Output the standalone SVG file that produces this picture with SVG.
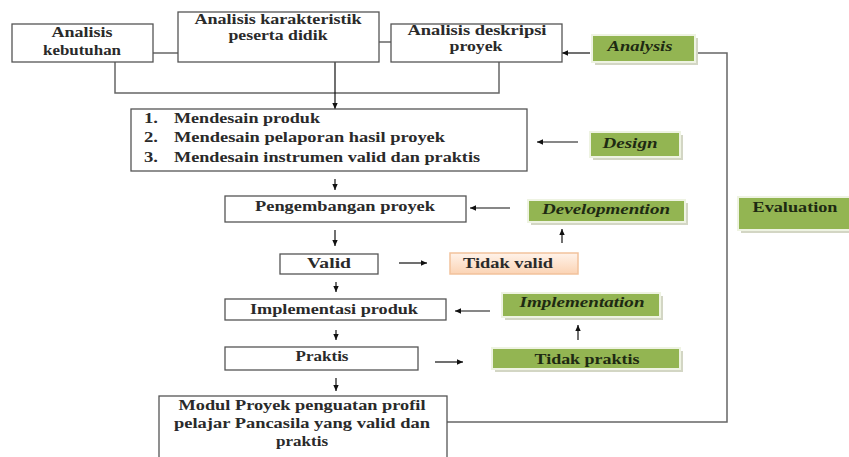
<svg xmlns="http://www.w3.org/2000/svg" width="849" height="457" viewBox="0 0 849 457">
<style>
.b{fill:#fff;stroke:#555;stroke-width:1.3}
.t{font-family:"Liberation Serif","Times New Roman",serif;font-size:15px;font-weight:bold;fill:#2a2a2a}
.s{font-size:14px}
.c{text-anchor:middle}
.gt{font-family:"Liberation Serif","Times New Roman",serif;font-size:15px;font-weight:bold;fill:#1e2a12;text-anchor:middle}
.i{font-style:italic}
.gs{fill:#d3d6c4}
.g{fill:#93b552;stroke:#eef3e2;stroke-width:2}
.ln{fill:none;stroke:#666;stroke-width:1.5}
.ar{fill:none;stroke:#111;stroke-width:1.2;marker-end:url(#ah)}
</style>
<defs>
<marker id="ah" viewBox="0 0 10 10" refX="10" refY="5" markerWidth="7" markerHeight="6" orient="auto" markerUnits="userSpaceOnUse"><path d="M0,0.5 L10,5 L0,9.5 z" fill="#111"/></marker>
<linearGradient id="peach" x1="0" y1="0" x2="0" y2="1"><stop offset="0" stop-color="#fff3ea"/><stop offset="1" stop-color="#fbd3b4"/></linearGradient>
</defs>
<rect width="849" height="457" fill="#fff"/>
<g id="connectors">
<path class="ln" d="M153,53 H178"/>
<path class="ln" d="M379,42 H391"/>
<path class="ln" d="M115,62 V93 H499 V62"/>
<path class="ar" d="M335,62 V109"/>
<path class="ar" d="M590,53 H562"/>
<path class="ln" d="M697,53 H727 V422 H447"/>
<path class="ar" d="M578,142 H537"/>
<path class="ar" d="M335,179 V190"/>
<path class="ar" d="M510,208 H470"/>
<path class="ar" d="M335,230 V246"/>
<path class="ar" d="M562,243 V229"/>
<path class="ar" d="M399,263 H427"/>
<path class="ar" d="M336,282 V292"/>
<path class="ar" d="M490,311 H455"/>
<path class="ar" d="M578,340 V325"/>
<path class="ar" d="M336,330 V340"/>
<path class="ar" d="M435,362 H463"/>
<path class="ar" d="M336,378 V391"/>
</g>
<g id="analisis-kebutuhan">
<rect class="b" x="12" y="24" width="141" height="38"/>
<text class="t c" x="82" y="37" textLength="61" lengthAdjust="spacingAndGlyphs">Analisis</text>
<text class="t c" x="82" y="55" textLength="78" lengthAdjust="spacingAndGlyphs">kebutuhan</text>
</g>
<g id="analisis-karakteristik">
<rect class="b" x="178" y="12" width="201" height="50"/>
<text class="t s c" x="278" y="24" textLength="167" lengthAdjust="spacingAndGlyphs">Analisis karakteristik</text>
<text class="t s c" x="278" y="40" textLength="99" lengthAdjust="spacingAndGlyphs">peserta didik</text>
</g>
<g id="analisis-deskripsi">
<rect class="b" x="391" y="24" width="171" height="38"/>
<text class="t s c" x="477" y="35" textLength="139" lengthAdjust="spacingAndGlyphs">Analisis deskripsi</text>
<text class="t s c" x="476" y="51" textLength="53" lengthAdjust="spacingAndGlyphs">proyek</text>
</g>
<g id="analysis">
<rect class="gs" x="595" y="38" width="103" height="27"/>
<rect class="g" x="592" y="35" width="103" height="27"/>
<text class="gt i" x="640" y="51" textLength="65" lengthAdjust="spacingAndGlyphs">Analysis</text>
</g>
<g id="design-box">
<rect class="b" x="131" y="109" width="396" height="62"/>
<text class="t" x="144" y="123" textLength="14" lengthAdjust="spacingAndGlyphs">1.</text>
<text class="t" x="174" y="123" textLength="146" lengthAdjust="spacingAndGlyphs">Mendesain produk</text>
<text class="t" x="144" y="142" textLength="14" lengthAdjust="spacingAndGlyphs">2.</text>
<text class="t" x="174" y="142" textLength="271" lengthAdjust="spacingAndGlyphs">Mendesain pelaporan hasil proyek</text>
<text class="t" x="144" y="162" textLength="14" lengthAdjust="spacingAndGlyphs">3.</text>
<text class="t" x="174" y="162" textLength="306" lengthAdjust="spacingAndGlyphs">Mendesain instrumen valid dan praktis</text>
</g>
<g id="design">
<rect class="gs" x="593" y="135" width="90" height="25"/>
<rect class="g" x="590" y="132" width="90" height="25"/>
<text class="gt i" x="630" y="148" textLength="55" lengthAdjust="spacingAndGlyphs">Design</text>
</g>
<g id="pengembangan">
<rect class="b" x="225" y="196" width="241" height="26"/>
<text class="t c" x="345" y="211" textLength="180" lengthAdjust="spacingAndGlyphs">Pengembangan proyek</text>
</g>
<g id="developmention">
<rect class="gs" x="531" y="203" width="157" height="22"/>
<rect class="g" x="528" y="200" width="157" height="22"/>
<text class="gt i" x="606" y="214" textLength="128" lengthAdjust="spacingAndGlyphs">Developmention</text>
</g>
<g id="evaluation">
<rect class="gs" x="741" y="200" width="115" height="33"/>
<rect class="g" x="738" y="197" width="115" height="33"/>
<text class="gt" x="795" y="212" textLength="85" lengthAdjust="spacingAndGlyphs">Evaluation</text>
</g>
<g id="valid">
<rect class="b" x="280" y="254" width="98" height="20"/>
<text class="t c" x="329" y="268" textLength="44" lengthAdjust="spacingAndGlyphs">Valid</text>
</g>
<g id="tidak-valid">
<rect x="450" y="253" width="128" height="21" fill="url(#peach)" stroke="#f2c29c" stroke-width="1.5"/>
<text class="t c" x="508" y="268" textLength="90" lengthAdjust="spacingAndGlyphs">Tidak valid</text>
</g>
<g id="implementasi">
<rect class="b" x="225" y="299" width="221" height="21"/>
<text class="t c" x="334" y="314" textLength="168" lengthAdjust="spacingAndGlyphs">Implementasi produk</text>
</g>
<g id="implementation">
<rect class="gs" x="505" y="296" width="158" height="24"/>
<rect class="g" x="502" y="293" width="158" height="24"/>
<text class="gt i" x="582" y="307" textLength="125" lengthAdjust="spacingAndGlyphs">Implementation</text>
</g>
<g id="praktis">
<rect class="b" x="225" y="347" width="193" height="23"/>
<text class="t c" x="322" y="361" textLength="53" lengthAdjust="spacingAndGlyphs">Praktis</text>
</g>
<g id="tidak-praktis">
<rect class="gs" x="495" y="351" width="188" height="21"/>
<rect class="g" x="492" y="348" width="188" height="21"/>
<text class="gt" x="587" y="364" textLength="105" lengthAdjust="spacingAndGlyphs">Tidak praktis</text>
</g>
<g id="modul">
<rect class="b" x="159" y="396" width="288" height="70"/>
<text class="t c" x="302" y="410" textLength="247" lengthAdjust="spacingAndGlyphs">Modul Proyek penguatan profil</text>
<text class="t c" x="302" y="428" textLength="256" lengthAdjust="spacingAndGlyphs">pelajar Pancasila yang valid dan</text>
<text class="t c" x="302" y="446" textLength="52" lengthAdjust="spacingAndGlyphs">praktis</text>
</g>
</svg>
